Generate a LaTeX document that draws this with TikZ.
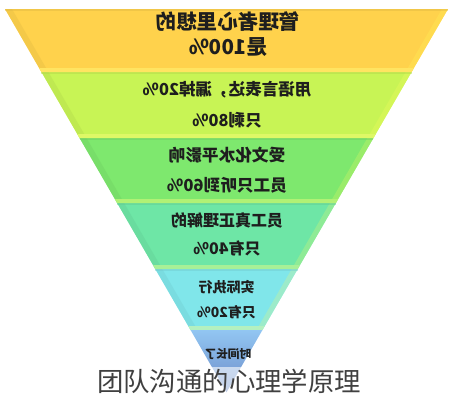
\documentclass[tikz,border=0pt]{standalone}
\usepackage{fontspec}
\usepackage{graphicx}
\newfontfamily\cjk{Noto Sans CJK SC}
\definecolor{bandA}{HTML}{FFD24C}
\definecolor{bandB}{HTML}{C8F455}
\definecolor{bandC}{HTML}{7EE86E}
\definecolor{bandD}{HTML}{6EE6A6}
\definecolor{bandE}{HTML}{80E6EA}
\definecolor{bandFtop}{HTML}{92C6F2}
\definecolor{bandFbot}{HTML}{6C8CC8}
\definecolor{txt}{HTML}{1E1E1E}
\newcommand\fbBand[3]{%
  \pgfmathsetmacro\la{5+0.578*(#1-9)}%
  \pgfmathsetmacro\lb{5+0.578*(#2-9)}%
  \pgfmathsetmacro\ra{448-0.578*(#1-9)}%
  \pgfmathsetmacro\rb{448-0.578*(#2-9)}%
  \fill[#3] (\la,#1) -- (\ra,#1) -- (\rb,#2) -- (\lb,#2) -- cycle;
  \fill[#3!92!black,opacity=0.5] (\la,#1) -- (\la+7,#1) -- (\lb+7,#2) -- (\lb,#2) -- cycle;
  \fill[#3!70!yellow!85!white,opacity=0.55] (\ra,#1) -- (\ra-6,#1) -- (\rb-6,#2) -- (\rb,#2) -- cycle;
  \fill[#3!88!black,opacity=0.45] (\la,#1) -- (\ra,#1) -- ([yshift=-1.5pt]\ra,#1) -- ([yshift=-1.5pt]\la,#1) -- cycle;
}
\tikzset{
  lbl/.style={text=txt, inner sep=0pt, font=\cjk\bfseries},
}
\begin{document}
\begin{tikzpicture}[x=0.75pt,y=-0.75pt]
\useasboundingbox (0,0) rectangle (456,400);
% bands
\fbBand{9}{72}{bandA}
\fbBand{72}{138}{bandB}
\fbBand{138}{203}{bandC}
\fbBand{203}{269}{bandD}
\fbBand{269}{330}{bandE}
% bottom strips (lighter)
\foreach \ya/\yb/\c in {68/72/bandA, 134/138/bandB, 199/203/bandC, 265/269/bandD, 326/330/bandE}{
  \pgfmathsetmacro\la{5+0.578*(\ya-9)}
  \pgfmathsetmacro\lb{5+0.578*(\yb-9)}
  \pgfmathsetmacro\ra{448-0.578*(\ya-9)}
  \pgfmathsetmacro\rb{448-0.578*(\yb-9)}
  \fill[\c!75!yellow!80!white] (\la,\ya) -- (\ra,\ya) -- (\rb,\yb) -- (\lb,\yb) -- cycle;
}
% last band (triangle tip) with gradient
\pgfmathsetmacro\la{5+0.578*(330-9)}
\pgfmathsetmacro\ra{448-0.578*(330-9)}
\shade[top color=bandFtop,bottom color=bandFbot] (\la,330) -- (\ra,330) -- (226.5,392.3) -- cycle;
% texts (mirrored as printed)
\node[lbl,font=\cjk\bfseries\fontsize{15.4}{18}\selectfont] (t1a) at (228,22) {\reflectbox{管理者心里想的}};
\node[lbl,font=\cjk\bfseries\fontsize{15.4}{18}\selectfont] (t1b) at (228,47) {\reflectbox{是100\%}};
\node[lbl,font=\cjk\bfseries\fontsize{12.4}{15}\selectfont] (t2a) at (227,90) {\reflectbox{用语言表达，漏掉20\%}};
\node[lbl,font=\cjk\bfseries\fontsize{12.4}{15}\selectfont] (t2b) at (227,120) {\reflectbox{只剩80\%}};
\node[lbl,font=\cjk\bfseries\fontsize{12.5}{15}\selectfont] (t3a) at (227,155) {\reflectbox{受文化水平影响}};
\node[lbl,font=\cjk\bfseries\fontsize{12.5}{15}\selectfont] (t3b) at (227,185) {\reflectbox{员工只听到60\%}};
\node[lbl,font=\cjk\bfseries\fontsize{12}{15}\selectfont] (t4a) at (227,220) {\reflectbox{员工真正理解的}};
\node[lbl,font=\cjk\bfseries\fontsize{12}{15}\selectfont] (t4b) at (227,248) {\reflectbox{只有40\%}};
\node[lbl,font=\cjk\bfseries\fontsize{10.5}{13}\selectfont] (t5a) at (226.5,287) {\reflectbox{实际执行}};
\node[lbl,font=\cjk\bfseries\fontsize{10.5}{13}\selectfont] (t5b) at (226.5,312) {\reflectbox{只有20\%}};
\node[lbl,font=\cjk\bfseries\fontsize{8.8}{11}\selectfont] (t6a) at (228,354) {\reflectbox{时间长了}};
% caption
\node[fill=white,fill opacity=0.6,text opacity=1,text=txt!85!white,inner sep=1pt,
      font=\cjk\fontsize{19.8}{22}\selectfont] (cap) at (229,381) {团队沟通的心理学原理};
\end{tikzpicture}
\end{document}
